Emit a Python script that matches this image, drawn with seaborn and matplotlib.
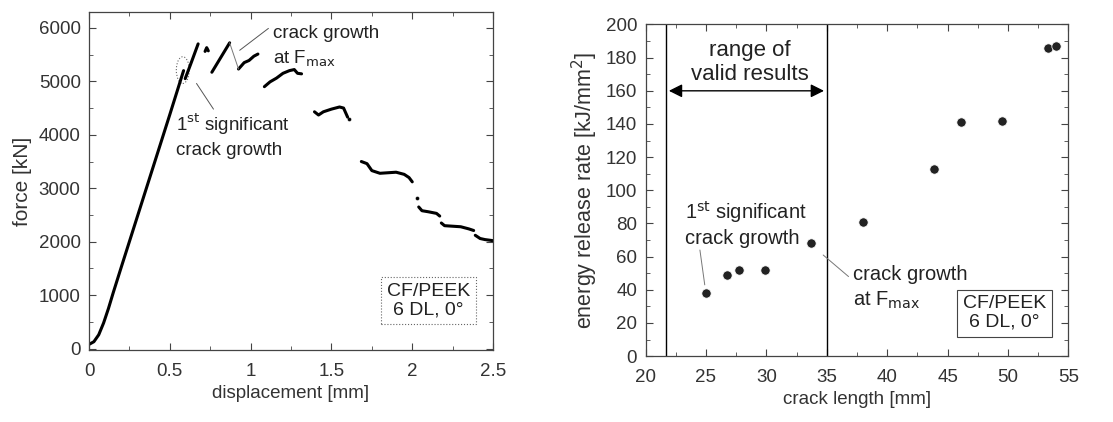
import matplotlib as mpl
mpl.use('Agg')
import matplotlib.pyplot as plt
from matplotlib.patches import Ellipse
from matplotlib.ticker import MultipleLocator
import seaborn as sns
import pandas as pd

# left panel: force-displacement curve, measured in separate pieces
disp_segments = [
	[0.0, 0.03, 0.06, 0.09, 0.12, 0.15, 0.2, 0.3, 0.4, 0.5, 0.585],
	[0.595, 0.63, 0.675],
	[0.718, 0.728, 0.738],
	[0.76, 0.82, 0.87],
	[0.925, 0.96, 0.99, 1.02, 1.045],
	[1.085, 1.12, 1.16, 1.2, 1.24, 1.27, 1.29, 1.315],
	[1.395, 1.42, 1.45, 1.5, 1.55, 1.575, 1.6],
	[1.685, 1.72, 1.75, 1.8, 1.85, 1.9, 1.95, 1.98, 2.0],
	[2.04, 2.06, 2.1, 2.15, 2.17],
	[2.18, 2.2, 2.25, 2.3, 2.35, 2.38],
	[2.39, 2.42, 2.45, 2.5],
]
force_segments = [
	[80, 130, 260, 480, 750, 1050, 1530, 2480, 3430, 4380, 5200],
	[5050, 5330, 5700],
	[5560, 5630, 5570],
	[5170, 5470, 5720],
	[5230, 5350, 5390, 5470, 5510],
	[4900, 4990, 5060, 5150, 5200, 5220, 5150, 5140],
	[4430, 4370, 4430, 4480, 4520, 4500, 4330],
	[3500, 3460, 3330, 3280, 3290, 3300, 3260, 3200, 3120],
	[2650, 2580, 2560, 2530, 2480],
	[2350, 2300, 2290, 2280, 2240, 2210],
	[2120, 2060, 2040, 2020],
]
drop_disp = [0.87, 0.925]
drop_force = [5720, 5230]
dot_disp = [1.61, 2.03]
dot_force = [4300, 2820]

# right panel: energy release rate vs crack length
crack_length = [25.0, 26.7, 27.7, 29.9, 33.7, 38.0, 43.9, 46.1, 49.5, 53.3, 54.0]
energy_rate = [38, 49, 52, 52, 68, 81, 113, 141, 142, 186, 187]
valid_range = [21.7, 35.0]

rows = []
for k, (xs, ys) in enumerate(zip(disp_segments, force_segments)):
	for x, y in zip(xs, ys):
		rows.append({'seg': k, 'disp': x, 'force': y})
curve = pd.DataFrame(rows)
points = pd.DataFrame({'a': crack_length, 'G': energy_rate})

sns.set_style('ticks')
plt.rcParams['font.family'] = ['Liberation Sans', 'DejaVu Sans']
plt.rcParams['text.color'] = '#222222'
grey = '#333333'

fig = plt.figure(figsize=(11.13, 4.22), dpi=100)
ax1 = fig.add_axes([0.080, 0.170, 0.363, 0.802])
ax2 = fig.add_axes([0.580, 0.156, 0.380, 0.786])

# ---- left
sns.lineplot(data=curve, x='disp', y='force', units='seg', estimator=None,
		sort=False, color='k', lw=2.2, ax=ax1)
ax1.plot(drop_disp, drop_force, color='#777777', lw=0.7)
sns.scatterplot(x=dot_disp, y=dot_force, color='k', s=8, ax=ax1)
ax1.set_xlim(0, 2.5)
ax1.set_ylim(-30, 6300)
ax1.xaxis.set_major_locator(MultipleLocator(0.5))
ax1.xaxis.set_minor_locator(MultipleLocator(0.25))
ax1.yaxis.set_major_locator(MultipleLocator(1000))
ax1.yaxis.set_minor_locator(MultipleLocator(500))
ax1.set_xticks([0, 0.5, 1, 1.5, 2, 2.5], ['0', '0.5', '1', '1.5', '2', '2.5'])
ax1.set_xlabel('displacement [mm]', fontsize=13.5, color=grey)
ax1.set_ylabel('force [kN]', fontsize=15, color=grey, labelpad=5)

ax1.add_patch(Ellipse((0.58, 5210), 0.08, 500, fill=False, ls=':', lw=0.8, color='#666666'))
ax1.plot([0.665, 0.77], [4960, 4480], color='#555555', lw=0.7)
ax1.text(0.54, 3990, r'1$^{\rm st}$ significant' + '\ncrack growth', fontsize=13.5,
		va='center', ha='left', linespacing=1.35)
ax1.plot([0.932, 1.11], [5580, 5990], color='#555555', lw=0.7)
ax1.text(1.14, 5650, 'crack growth\n' + r'at F$_{\rm max}$', fontsize=13.5,
		va='center', ha='left', linespacing=1.45)
ax1.text(2.1, 900, 'CF/PEEK\n6 DL, 0°', fontsize=14, ha='center', va='center',
		linespacing=1.1,
		bbox=dict(boxstyle='square,pad=0.3', fc='white', ec='#666666', lw=0.8, ls=':'))

# ---- right
for xv in valid_range:
	ax2.axvline(xv, color='k', lw=1.0)
sns.scatterplot(data=points, x='a', y='G', color='#222222', s=45, ax=ax2, zorder=3)
ax2.annotate('', xy=(valid_range[0], 160), xytext=(valid_range[1], 160),
		arrowprops=dict(arrowstyle='<|-|>', color='k', lw=1.0, mutation_scale=20))
ax2.text(28.6, 177, 'range of\nvalid results', fontsize=16, ha='center', va='center',
		linespacing=1.15)
ax2.plot([24.9, 24.5], [43, 64], color='#777777', lw=0.7)
ax2.text(23.3, 80, r'1$^{\rm st}$ significant' + '\ncrack growth', fontsize=14.5,
		ha='left', va='center', linespacing=1.25)
ax2.plot([34.7, 36.8], [61, 48], color='#777777', lw=0.7)
ax2.text(37.2, 41, 'crack growth\n' + r'at F$_{\rm max}$', fontsize=14.5,
		ha='left', va='center', linespacing=1.35)
ax2.text(49.7, 26, 'CF/PEEK\n6 DL, 0°', fontsize=14, ha='center', va='center',
		linespacing=1.1,
		bbox=dict(boxstyle='square,pad=0.3', fc='white', ec='#444444', lw=0.8))
ax2.set_xlim(20, 55)
ax2.set_ylim(0, 200)
ax2.xaxis.set_major_locator(MultipleLocator(5))
ax2.xaxis.set_minor_locator(MultipleLocator(2.5))
ax2.yaxis.set_major_locator(MultipleLocator(20))
ax2.yaxis.set_minor_locator(MultipleLocator(10))
ax2.set_xlabel('crack length [mm]', fontsize=13.5, color=grey)
ax2.set_ylabel(r'energy release rate [kJ/mm$^2$]', fontsize=15.5, color=grey)

for ax in (ax1, ax2):
	ax.tick_params(which='both', direction='in', top=True, right=True,
			labelsize=13.5, labelcolor=grey, color='#444444')
	ax.tick_params(which='major', length=5)
	ax.tick_params(which='minor', length=3)
	ax.tick_params(axis='x', which='major', pad=9)
	ax.tick_params(axis='y', which='major', pad=6)
	for sp in ax.spines.values():
		sp.set_color('#444444')
		sp.set_linewidth(0.9)

fig.savefig('out.png', dpi=100)
